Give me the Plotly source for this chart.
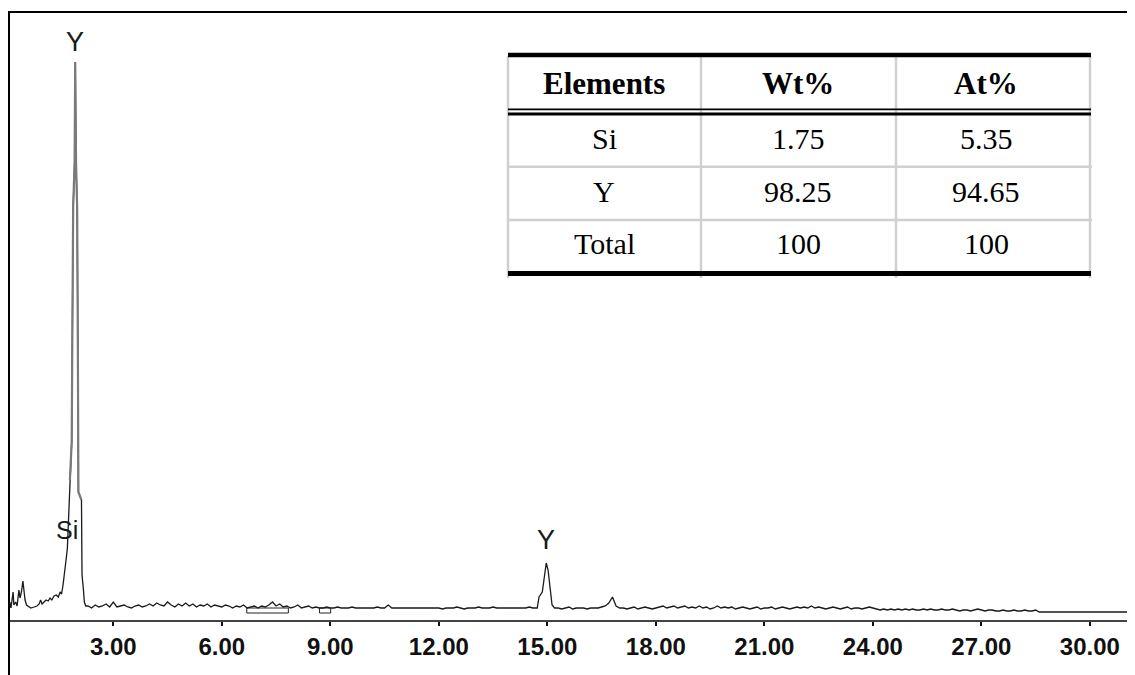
import numpy as np
import plotly.graph_objects as go

# ---------------- data ----------------
# low-energy region (explicit channels, keV / counts)
low_kev = [0.12, 0.14, 0.17, 0.20, 0.23, 0.25, 0.30, 0.34, 0.37, 0.39, 0.42, 0.46,
           0.50, 0.53, 0.56, 0.60, 0.67, 0.72, 0.81, 0.89, 0.95, 0.99, 1.03, 1.09,
           1.14, 1.20, 1.25, 1.30, 1.36]
low_counts = [8, 18, 12, 22, 28, 15, 18, 14, 25, 30, 22, 28,
              39, 28, 20, 15, 13, 12, 13, 14, 16, 20, 16, 18,
              20, 19, 22, 20, 24]

# Si K / Y L peak region
peak_kev = [1.42, 1.48, 1.53, 1.57, 1.61, 1.66, 1.70, 1.73, 1.80, 1.83, 1.85, 1.87, 1.89,
            1.93, 1.947, 1.97, 2.00, 2.02, 2.035, 2.12, 2.135, 2.17, 2.20, 2.24]
peak_counts = [25, 23, 28, 26, 35, 48, 62, 72, 140, 178, 178, 300, 413,
               457, 558, 457, 413, 273, 128, 120, 45, 32, 18, 14]

# baseline 2.3 - 14.6 keV, 0.1 keV channels
base_b_start = 2.3
base_b = [14, 12, 15, 13, 14, 16, 13,
          18, 13, 14, 15, 13, 12, 14, 15, 13, 14,
          16, 14, 17, 15, 14, 18, 15, 13, 16, 14,
          17, 14, 16, 13, 15, 14, 16, 13, 15, 14,
          13, 15, 14, 12, 14, 13, 15, 12, 13, 14,
          12, 14, 13, 15, 18, 14, 16, 13, 14, 12,
          13, 15, 12, 13, 14, 12, 13, 12, 12, 13,
          12, 12, 13, 12, 12, 12, 13, 12, 12, 12,
          12, 12, 12, 13, 12, 12, 15, 12, 12, 12,
          12, 12, 12, 12, 12, 12, 12, 12, 12, 12,
          12, 11, 12, 12, 12, 13, 12, 11, 12, 12,
          12, 13, 12, 12, 12, 13, 12, 12, 12, 12,
          12, 12, 12, 12, 12, 13, 12]

# Y K-alpha peak
ka_kev = [14.72, 14.77, 14.86, 14.91, 14.97, 15.02, 15.08, 15.13, 15.20]
ka_counts = [12, 23, 28, 43, 57, 50, 32, 15, 12]

# baseline 15.3 - 31.3 keV, 0.1 keV channels
base_c_start = 15.3
base_c = [12, 11, 12, 13, 11, 12, 12,
          12, 11, 12, 12, 12, 13, 14, 17, 23, 14,
          12, 12, 11, 12, 13, 11, 12, 13, 12, 11,
          12, 13, 14, 12, 13, 14, 12, 13, 14, 12,
          13, 12, 14, 12, 13, 11, 12, 14, 12, 13,
          12, 13, 11, 12, 13, 12, 11, 12, 13, 11,
          12, 12, 13, 11, 12, 13, 12, 11, 12, 13,
          12, 13, 12, 14, 12, 13, 12, 11, 12, 13,
          12, 11, 12, 13, 11, 12, 12, 11, 12, 13,
          12, 11, 10, 11, 10, 11, 10, 11, 10, 11,
          10, 11, 10, 10, 11, 10, 11, 10, 10, 11,
          10, 10, 11, 10, 9, 10, 10, 9, 10, 11,
          10, 9, 10, 10, 9, 9, 10, 9, 9, 10,
          9, 9, 10, 9, 9, 10, 8, 8, 8, 8,
          8, 8, 8, 8, 8, 8, 8, 8, 8, 8,
          8, 8, 8, 8, 8, 8, 8, 8, 8, 8,
          8, 8, 8, 8]

tick_vals = [3, 6, 9, 12, 15, 18, 21, 24, 27, 30]
tick_text = ["3.00", "6.00", "9.00", "12.00", "15.00", "18.00", "21.00", "24.00", "27.00", "30.00"]

peak_labels = ["Si", "Y", "Y"]
peak_label_kev = [1.71, 1.947, 14.97]
peak_label_counts = [90, 558, 57]

roi_kev = [(6.69, 7.84), (8.70, 9.01)]
roi_counts = (7, 12)

table_header = ["Elements", "Wt%", "At%"]
elements = ["Si", "Y", "Total"]
wt_pct = ["1.75", "98.25", "100"]
at_pct = ["5.35", "94.65", "100"]

# ---------------- assemble spectrum ----------------
bk = np.round(base_b_start + 0.1 * np.arange(len(base_b)), 2)
ck = np.round(base_c_start + 0.1 * np.arange(len(base_c)), 2)
energy = np.concatenate([low_kev, peak_kev, bk, ka_kev, ck])
counts = np.concatenate([low_counts, peak_counts, base_b, ka_counts, base_c])

OFF = 8  # page body margin
W, H = 1127, 667
ML, MR, MT, MB = 1, 0, 4, 55
PW, PH = W - ML - MR, H - MT - MB

def px(x):
    return (x - OFF - ML) / PW

def py(y):
    return (H - MB - (y - OFF)) / PH

fig = go.Figure()
fig.add_trace(go.Scatter(x=energy, y=counts, mode="lines",
                         line=dict(color="#1a1a1a", width=1.3), hoverinfo="skip",
                         showlegend=False))
mask = (energy >= 1.78) & (energy <= 2.13)
fig.add_trace(go.Scatter(x=energy[mask], y=counts[mask], mode="lines",
                         line=dict(color="#7a7a7a", width=2.2), hoverinfo="skip",
                         showlegend=False))

# peak labels
shifts = [0, 20, 23]
sizes = [25, 27, 27]
for lab, xk, yc, s, fs in zip(peak_labels, peak_label_kev, peak_label_counts, shifts, sizes):
    fig.add_annotation(x=xk, y=yc, xref="x", yref="y", text=lab, showarrow=False,
                       yshift=s, xanchor="center", yanchor="middle",
                       font=dict(family="Liberation Sans, Arial", size=fs, color="#1a1a1a"))

shapes = []
# ROI markers
for x0, x1 in roi_kev:
    shapes.append(dict(type="rect", xref="x", yref="y", x0=x0, x1=x1,
                       y0=roi_counts[0], y1=roi_counts[1],
                       line=dict(color="#222", width=1)))
# frame
shapes.append(dict(type="line", xref="paper", yref="paper", x0=px(9), x1=px(9),
                   y0=py(H + OFF + 2), y1=py(11), line=dict(color="black", width=2)))
shapes.append(dict(type="line", xref="paper", yref="paper", x0=px(8), x1=px(W + OFF + 2),
                   y0=py(12), y1=py(12), line=dict(color="black", width=2)))

# ---------------- table ----------------
col_x = [508, 701, 896, 1090]
gray = "#d0d0d0"
for cx in col_x:
    shapes.append(dict(type="line", xref="paper", yref="paper", x0=px(cx), x1=px(cx),
                       y0=py(56), y1=py(278), line=dict(color=gray, width=2.5)))
for ry in [166.7, 220]:
    shapes.append(dict(type="line", xref="paper", yref="paper", x0=px(508), x1=px(1092),
                       y0=py(ry), y1=py(ry), line=dict(color=gray, width=2.5)))
for ry, wdt in [(55, 4.5), (109.3, 1.8), (114, 3.2), (273.5, 5)]:
    shapes.append(dict(type="line", xref="paper", yref="paper", x0=px(508), x1=px(1091),
                       y0=py(ry), y1=py(ry), line=dict(color="black", width=wdt)))

text_cx = [604, 798, 986]
for t, cx in zip(table_header, text_cx):
    fig.add_annotation(x=px(cx), y=py(83), xref="paper", yref="paper", text="<b>%s</b>" % t,
                       showarrow=False, xanchor="center", yanchor="middle",
                       font=dict(family="Liberation Serif, Times New Roman", size=31, color="black"))
row_y = [138, 191, 244]
for i, ry in enumerate(row_y):
    for val, cx in zip([elements[i], wt_pct[i], at_pct[i]], text_cx):
        fig.add_annotation(x=px(cx), y=py(ry), xref="paper", yref="paper", text=val,
                           showarrow=False, xanchor="center", yanchor="middle",
                           font=dict(family="Liberation Serif, Times New Roman", size=30, color="black"))

x0 = (9 - 4.8) / 36.17
x1 = x0 + PW / 36.17
tickfont = dict(family="Liberation Sans, Arial, sans-serif", size=24, color="#111")
fig.update_layout(
    width=W, height=H, autosize=False,
    margin=dict(l=ML, r=MR, t=MT, b=MB),
    paper_bgcolor="white", plot_bgcolor="white",
    shapes=shapes,
    xaxis=dict(range=[x0, x1], showgrid=False, zeroline=False, showline=True,
               linecolor="#444", linewidth=2, ticks="outside", ticklen=4, tickwidth=2,
               tickcolor="#111", tickvals=tick_vals, ticktext=["<b>%s</b>" % t for t in tick_text],
               tickfont=tickfont),
    xaxis2=dict(range=[x0, x1], overlaying="x", side="bottom", anchor="y", showgrid=False,
                zeroline=False, showline=False, ticks="inside", ticklen=4, tickwidth=2,
                tickcolor="#111", tickvals=tick_vals, showticklabels=False),
    yaxis=dict(range=[0, PH], visible=False, showgrid=False, zeroline=False),
)
fig.write_html("out.html")
